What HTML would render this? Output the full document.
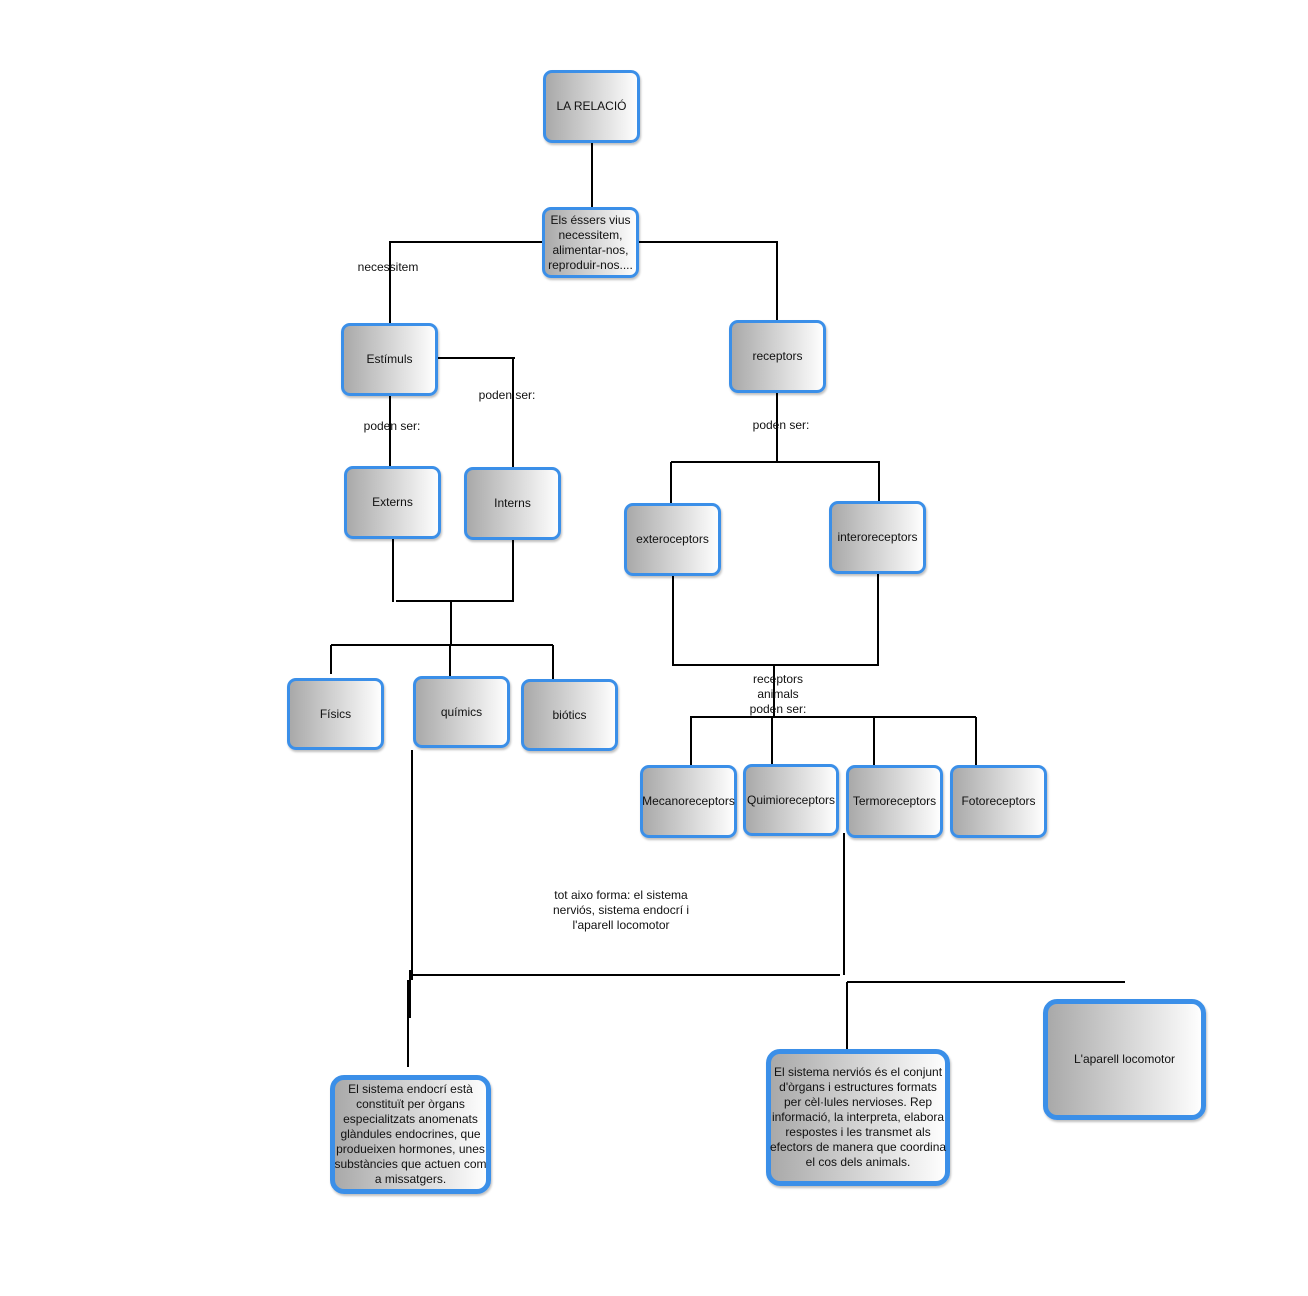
<!DOCTYPE html>
<html><head><meta charset="utf-8"><style>
body{margin:0;background:#fff;width:1308px;height:1296px;position:relative;overflow:hidden;font-family:"Liberation Sans",sans-serif;}
.n{position:absolute;box-sizing:border-box;border:3px solid #3b8fe8;border-radius:9px;background:linear-gradient(to right,#a9a9a9,#fefefe);display:flex;align-items:center;justify-content:center;text-align:center;font-size:12px;color:#111;line-height:15px;box-shadow:1px 2px 2px rgba(0,0,0,0.25);padding:0;}
.b{border-width:5px;border-radius:14px;}
.nw{white-space:nowrap;}
.l{position:absolute;font-size:12px;color:#111;text-align:center;line-height:15px;}
svg{position:absolute;left:0;top:0;}
</style></head><body>
<svg width="1308" height="1296"><g stroke="#000" stroke-width="2" fill="none">
<path d="M592 143V207"/>
<path d="M542 242H390V323"/>
<path d="M639 242H777V320"/>
<path d="M438 358H515M513 358V467"/>
<path d="M390 396V466"/>
<path d="M777 393V463M671 462H879M671 462V503M879 461V501"/>
<path d="M393 539V602M513 540V602M396 601H513M451 601V645M331 645H553M331 645V674M450 645V676M553 645V679"/>
<path d="M673 576V665H878V574"/>
<path d="M774 665V718M690 717H976M691 717V765M772 717V764M874 717V765M976 717V765"/>
<path d="M412 750V980M411 975H840M844 833V975M847 982H1125M847 982V1080M408 980V1067M410 970V1018"/>
</g></svg>
<div class="n" style="left:543px;top:70px;width:97px;height:73px">LA RELACIÓ</div>
<div class="n nw" style="left:542px;top:207px;width:97px;height:71px">Els éssers vius<br>necessitem,<br>alimentar-nos,<br>reproduir-nos....</div>
<div class="n" style="left:341px;top:323px;width:97px;height:73px">Estímuls</div>
<div class="n" style="left:729px;top:320px;width:97px;height:73px">receptors</div>
<div class="n" style="left:344px;top:466px;width:97px;height:73px">Externs</div>
<div class="n" style="left:464px;top:467px;width:97px;height:73px">Interns</div>
<div class="n" style="left:624px;top:503px;width:97px;height:73px">exteroceptors</div>
<div class="n" style="left:829px;top:501px;width:97px;height:73px">interoreceptors</div>
<div class="n" style="left:287px;top:678px;width:97px;height:72px">Físics</div>
<div class="n" style="left:413px;top:676px;width:97px;height:72px">químics</div>
<div class="n" style="left:521px;top:679px;width:97px;height:72px">biótics</div>
<div class="n" style="left:640px;top:765px;width:97px;height:73px">Mecanoreceptors</div>
<div class="n" style="left:743px;top:764px;width:96px;height:72px">Quimioreceptors</div>
<div class="n" style="left:846px;top:765px;width:97px;height:73px">Termoreceptors</div>
<div class="n" style="left:950px;top:765px;width:97px;height:73px">Fotoreceptors</div>
<div class="n b nw" style="left:330px;top:1075px;width:161px;height:119px">El sistema endocrí està<br>constituït per òrgans<br>especialitzats anomenats<br>glàndules endocrines, que<br>produeixen hormones, unes<br>substàncies que actuen com<br>a missatgers.</div>
<div class="n b nw" style="left:766px;top:1049px;width:184px;height:137px">El sistema nerviós és el conjunt<br>d'òrgans i estructures formats<br>per cèl·lules nervioses. Rep<br>informació, la interpreta, elabora<br>respostes i les transmet als<br>efectors de manera que coordina<br>el cos dels animals.</div>
<div class="n b" style="left:1043px;top:999px;width:163px;height:121px">L'aparell locomotor</div>
<div class="l" style="left:340px;top:260px;width:96px">necessitem</div>
<div class="l" style="left:344px;top:419px;width:96px">poden ser:</div>
<div class="l" style="left:459px;top:388px;width:96px">poden ser:</div>
<div class="l" style="left:733px;top:418px;width:96px">poden ser:</div>
<div class="l" style="left:730px;top:672px;width:96px;">receptors<br>animals<br>poden ser:</div>
<div class="l" style="left:521px;top:888px;width:200px;white-space:nowrap">tot aixo forma: el sistema<br>nerviós, sistema endocrí i<br>l'aparell locomotor</div>
</body></html>
